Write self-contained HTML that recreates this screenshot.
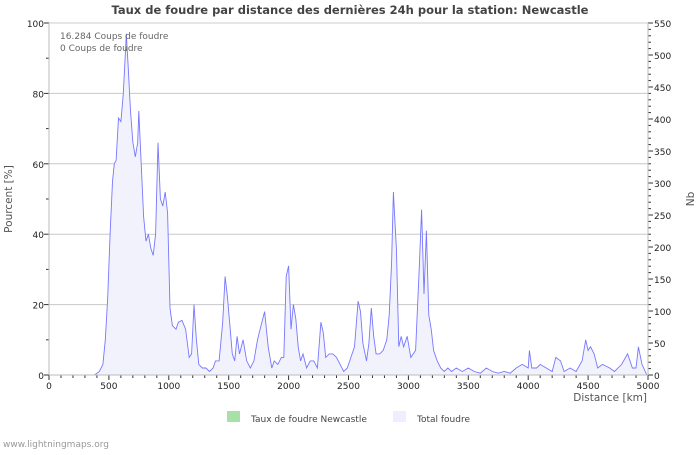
<!DOCTYPE html>
<html><head><meta charset="utf-8"><style>
body{margin:0;background:#fff;font-family:"Liberation Sans","DejaVu Sans",sans-serif}
svg text{font-family:"DejaVu Sans","Liberation Sans",sans-serif}
</style></head><body>
<svg id="c" width="700" height="450" xmlns="http://www.w3.org/2000/svg">
<rect width="700" height="450" fill="#fff"/>
<text x="350" y="14" text-anchor="middle" font-size="11.5" font-weight="bold" fill="#444">Taux de foudre par distance des dernières 24h pour la station: Newcastle</text>
<g id="grid"></g><g id="series"></g><g id="axes"></g>
<text x="60" y="39" font-size="9" fill="#666">16.284  Coups de foudre</text>
<text x="60" y="51" font-size="9" fill="#666">0  Coups de foudre</text>
<text transform="translate(12,199) rotate(-90)" text-anchor="middle" font-size="10.5" fill="#555">Pourcent   [%]</text>
<text transform="translate(694,199) rotate(-90)" text-anchor="middle" font-size="10.5" fill="#555">Nb</text>
<text x="647" y="401" text-anchor="end" font-size="10.5" fill="#555">Distance   [km]</text>
<g><rect x="227" y="411" width="13" height="11" fill="#a8e0a8"/><text x="251" y="422" font-size="9" fill="#444">Taux de foudre Newcastle</text></g>
<g><rect x="393" y="411" width="13" height="11" fill="#eeeeff"/><text x="417" y="422" font-size="9" fill="#444">Total foudre</text></g>
<text x="3" y="447" font-size="9" fill="#999">www.lightningmaps.org</text>
</svg>
<script>
const distances=[0,380,420,450,470,490,510,530,545,560,580,600,620,635,645,660,680,700,720,740,750,770,790,810,830,850,870,890,910,930,950,970,990,1010,1030,1060,1080,1110,1140,1170,1190,1210,1230,1250,1280,1310,1340,1370,1390,1420,1450,1470,1490,1510,1530,1550,1570,1590,1620,1650,1680,1710,1740,1770,1800,1830,1860,1880,1910,1940,1960,1980,2000,2020,2040,2060,2080,2100,2120,2150,2180,2210,2240,2270,2290,2310,2340,2370,2400,2430,2460,2490,2520,2550,2580,2600,2620,2650,2670,2690,2710,2730,2760,2790,2820,2840,2860,2875,2890,2900,2920,2940,2960,2990,3020,3060,3090,3110,3130,3150,3170,3190,3210,3240,3270,3300,3330,3360,3400,3450,3500,3550,3600,3650,3700,3750,3800,3850,3900,3950,4000,4010,4030,4070,4100,4150,4200,4230,4270,4300,4350,4400,4450,4480,4500,4520,4550,4580,4620,4680,4720,4780,4830,4870,4900,4920,4950,4990];
const totalPercent=[0,0,1,3,10,22,40,55,60,61,73,72,80,90,97,88,75,66,62,66,75,60,45,38,40,36,34,40,66,50,48,52,46,19,14,13,15,15.5,13,5,6,20,10,3,2,2,1,2,4,4,15,28,22,14,6,4,11,6,10,4,2,4,10,14,18,8,2,4,3,5,5,28,31,13,20,16,8,4,6,2,4,4,2,15,12,5,6,6,5,3,1,2,5,8,21,18,9,4,9,19,11,6,6,7,10,17,32,52,42,36,8,11,8,11,5,7,30,47,23,41,17,13,7,4,2,1,2,1,2,1,2,1,0.5,2,1,0.5,1,0.5,2,3,2,7,2,2,3,2,1,5,4,1,2,1,4,10,7,8,6,2,3,2,1,3,6,2,2,8,3,0];
const stationPercent=distances.map(()=>0);
const leftTicks=[0,20,40,60,80,100];
const rightTicks=[0,50,100,150,200,250,300,350,400,450,500,550];
const xTicks=[0,500,1000,1500,2000,2500,3000,3500,4000,4500,5000];
const X0=49,X1=648,Y0=375,Y1=23;
const xs=d=>X0+(X1-X0)*d/5000, yl=p=>Y0-(Y0-Y1)*p/100, yr=n=>Y0-(Y0-Y1)*n/550;
const NS="http://www.w3.org/2000/svg";
function mk(parent,tag,at){const e=document.createElementNS(NS,tag);for(const k in at)e.setAttribute(k,at[k]);document.getElementById(parent).appendChild(e);return e;}
leftTicks.forEach(t=>{if(t>0){const g=mk('grid','line',{x1:X0,x2:X1,y1:yl(t),y2:yl(t),stroke:'#c8c8c8'});

}
const l=mk('axes','text',{x:X0-5,y:yl(t)+4,'text-anchor':'end','font-size':9,fill:'#222'});l.textContent=t;

});
for(let p=0;p<=100;p+=10){mk('axes','line',{x1:X0-(p%20?3:5),x2:X0,y1:yl(p),y2:yl(p),stroke:'#333'});}
rightTicks.forEach(t=>{const l=mk('axes','text',{x:X1+6,y:yr(t)+4,'font-size':9,fill:'#222'});l.textContent=t;

});
for(let n=0;n<=550;n+=10){mk('axes','line',{x1:X1,x2:X1+(n%50?3:5),y1:yr(n),y2:yr(n),stroke:'#333'});}
for(let d=0;d<=5000;d+=100){mk('axes','line',{x1:xs(d),x2:xs(d),y1:Y0,y2:Y0+(d%500?3:5),stroke:'#333'});}
xTicks.forEach(t=>{const l=mk('axes','text',{x:xs(t),y:Y0+14,'text-anchor':'middle','font-size':9,fill:'#222'});l.textContent=t;

});
mk('axes','line',{x1:X0,x2:X0,y1:Y1,y2:Y0,stroke:'#bbb'});
mk('axes','line',{x1:X1,x2:X1,y1:Y1,y2:Y0,stroke:'#bbb'});
mk('axes','line',{x1:X0,x2:X1,y1:Y0,y2:Y0,stroke:'#bbb'});
mk('axes','line',{x1:X0,x2:X1,y1:Y1,y2:Y1,stroke:'#ccc'});
let pts=distances.map((d,i)=>xs(d).toFixed(1)+','+yl(totalPercent[i]).toFixed(1)).join(' ');
const area=mk('series','polygon',{points:xs(0)+','+Y0+' '+pts+' '+xs(distances[distances.length-1])+','+Y0,fill:'#f2f2fc'});


const line=mk('series','polyline',{points:pts,fill:'none',stroke:'#7777ff','stroke-width':0.9});


let sp=distances.map((d,i)=>xs(d).toFixed(1)+','+yl(stationPercent[i]).toFixed(1)).join(' ');
const st=mk('series','polyline',{points:sp,fill:'none',stroke:'#5c5','stroke-width':0.5,opacity:0});


</script>
</body></html>
